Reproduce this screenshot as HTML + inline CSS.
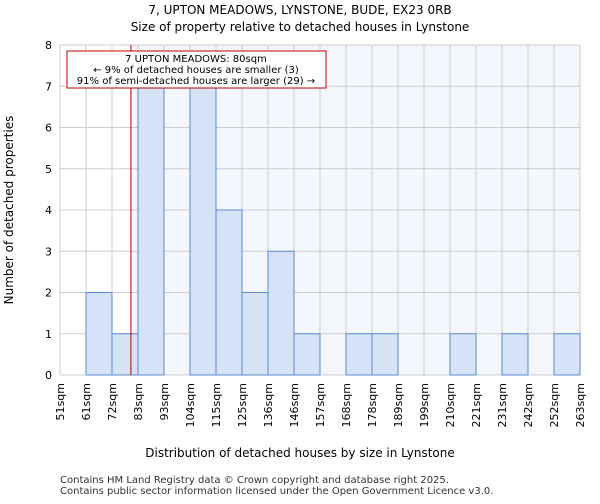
<!DOCTYPE html>
<html><head><meta charset="utf-8"><style>
body{margin:0;background:#fff;font-family:"DejaVu Sans","Liberation Sans",sans-serif}
</style></head><body>
<svg id="c" width="600" height="500" xmlns="http://www.w3.org/2000/svg">
<text x="300" y="14" text-anchor="middle" font-size="12">7, UPTON MEADOWS, LYNSTONE, BUDE, EX23 0RB</text>
<text x="300" y="31" text-anchor="middle" font-size="12">Size of property relative to detached houses in Lynstone</text>
<g id="plot"></g>
<text x="300" y="457" text-anchor="middle" font-size="12">Distribution of detached houses by size in Lynstone</text>
<text transform="translate(13,210) rotate(-90)" text-anchor="middle" font-size="12">Number of detached properties</text>
<text x="60" y="483" font-size="10" fill="#333">Contains HM Land Registry data © Crown copyright and database right 2025.</text>
<text x="60" y="494" font-size="10" fill="#333">Contains public sector information licensed under the Open Government Licence v3.0.</text>
</svg>
<script>
const edges=[51,61,72,83,93,104,115,125,136,146,157,168,178,189,199,210,221,231,242,252,263];
const counts=[0,2,1,7,0,7,4,2,3,1,0,1,1,0,0,1,0,1,0,1];
const yTicks=[0,1,2,3,4,5,6,7,8];
const subject=80;
const L=60,R=580,T=45,B=375,ymax=8;
const ns="http://www.w3.org/2000/svg";
const g=document.getElementById('plot');
const xi=i=>L+(R-L)*i/(edges.length-1);
const y=v=>B-(B-T)*v/ymax;
function mk(t,a,p){const e=document.createElementNS(ns,t);for(const k in a)e.setAttribute(k,a[k]);(p||g).appendChild(e);return e;}
let k=0;while(edges[k+1]<subject)k++;
const sx=xi(k)+(xi(k+1)-xi(k))*(subject-edges[k])/(edges[k+1]-edges[k]);
const bg=mk('rect',{x:sx,y:T,width:R-sx,height:B-T,fill:'#f3f6fd'});


yTicks.forEach(v=>{const l=mk('line',{x1:L,x2:R,y1:y(v),y2:y(v),stroke:'#cccccc'});


const t=mk('text',{x:L-8,y:y(v)+4,'text-anchor':'end','font-size':11});t.textContent=v;

});
edges.forEach((e,i)=>{const l=mk('line',{x1:xi(i),x2:xi(i),y1:T,y2:B,stroke:'#cccccc'});


const t=mk('text',{transform:`translate(${xi(i)+4},${B+8}) rotate(-90)`,'text-anchor':'end','font-size':11});t.textContent=e+'sqm';

});
counts.forEach((c,i)=>{if(!c)return;const r=mk('rect',{x:xi(i),y:y(c),width:xi(i+1)-xi(i),height:B-y(c),fill:'#d6e2f5',stroke:'#5b8bd0','stroke-width':1});

});
const ml=mk('line',{x1:sx,x2:sx,y1:T,y2:B,stroke:'#b00000','stroke-width':1});


const box=mk('rect',{x:67,y:51,width:259,height:37,fill:'#fff',stroke:'#c00000'});


['7 UPTON MEADOWS: 80sqm','← 9% of detached houses are smaller (3)','91% of semi-detached houses are larger (29) →'].forEach((s,i)=>{
const t=mk('text',{x:196,y:62+i*11,'text-anchor':'middle','font-size':10});t.textContent=s;

});
</script>
</body></html>
